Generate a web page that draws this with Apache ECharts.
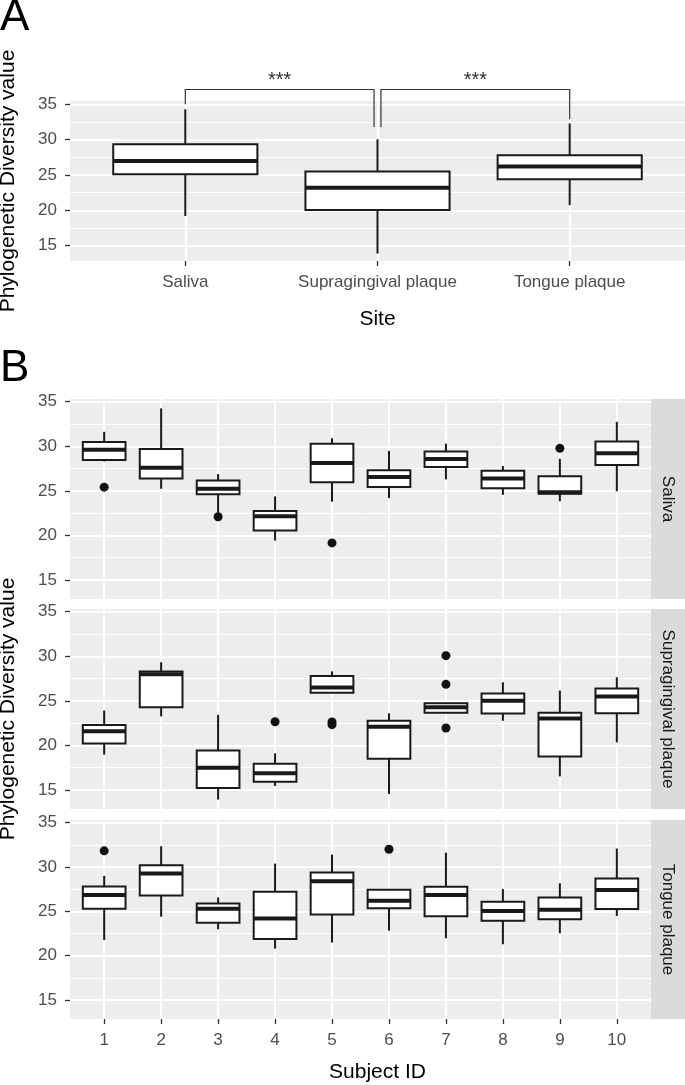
<!DOCTYPE html>
<html><head><meta charset="utf-8">
<script src="https://cdn.jsdelivr.net/npm/echarts@6/dist/echarts.min.js"></script>
<style>html,body{margin:0;padding:0;background:#fff}#c{width:685px;height:1085px}</style>
</head><body><div id="c"></div><script>
// ---------- Panel A data ----------
const sites = ['Saliva', 'Supragingival plaque', 'Tongue plaque'];
// [lower whisker, Q1, median, Q3, upper whisker]
const siteBoxes = [
  [19.2, 25.1, 27.0, 29.35, 34.3],
  [13.9, 20.05, 23.2, 25.5, 30.05],
  [20.75, 24.4, 26.2, 27.8, 32.3]
];
const bracketFrom = [1, 2.018];
const bracketTo = [1.982, 3];
const bracketTop = [37.1, 37.1];
const bracketTipFrom = [35.0, 31.8];
const bracketTipTo = [31.8, 32.9];
const signifLabels = ['***', '***'];

// ---------- Panel B data ----------
const subjects = ['1', '2', '3', '4', '5', '6', '7', '8', '9', '10'];
const facetNames = ['Saliva', 'Supragingival plaque', 'Tongue plaque'];
const salivaBoxes = [
  [28.3, 28.46, 29.62, 30.49, 31.62],
  [25.23, 26.39, 27.59, 29.7, 34.25],
  [22.55, 24.62, 25.23, 26.17, 26.88],
  [19.42, 20.55, 22.16, 22.73, 24.38],
  [23.78, 25.95, 28.13, 30.27, 30.9],
  [24.19, 25.43, 26.55, 27.3, 29.48],
  [26.28, 27.67, 28.57, 29.4, 30.3],
  [24.55, 25.3, 26.39, 27.26, 27.78],
  [23.83, 24.66, 24.85, 26.65, 28.6],
  [24.96, 27.89, 29.21, 30.53, 32.74]
];
const salivaOutliers = [[1, 25.41], [3, 22.1], [5, 19.16], [9, 29.77]];
const supraBoxes = [
  [18.96, 20.22, 21.6, 22.28, 23.92],
  [23.25, 24.29, 27.99, 28.28, 29.33],
  [13.92, 15.22, 17.5, 19.44, 23.43],
  [15.45, 15.93, 16.87, 17.95, 19.11],
  [25.92, 25.92, 26.51, 27.79, 28.31],
  [14.55, 18.51, 22.1, 22.78, 23.6],
  [23.67, 23.67, 24.27, 24.72, 24.72],
  [22.76, 23.58, 25.0, 25.82, 27.09],
  [16.53, 18.77, 23.02, 23.66, 26.16],
  [20.34, 23.62, 25.49, 26.38, 27.65]
];
const supraOutliers = [[4, 22.66], [5, 22.63], [5, 22.33], [7, 30.07], [7, 26.85], [7, 21.95]];
const tongueBoxes = [
  [21.78, 25.3, 26.84, 27.81, 29.01],
  [24.4, 26.8, 29.27, 30.21, 32.34],
  [22.98, 23.73, 25.3, 25.9, 26.57],
  [20.81, 21.89, 24.21, 27.21, 30.39],
  [21.48, 24.66, 28.41, 29.38, 31.4],
  [22.83, 25.34, 26.2, 27.43, 27.43],
  [21.97, 24.44, 26.84, 27.77, 31.63],
  [21.29, 23.95, 25.04, 26.09, 27.51],
  [22.53, 24.1, 25.19, 26.57, 28.18],
  [24.48, 25.26, 27.4, 28.71, 32.08]
];
const tongueOutliers = [[1, 31.82], [6, 32.0]];

const yTicks = [15, 20, 25, 30, 35];
const yMinorTicks = [17.5, 22.5, 27.5, 32.5];
const yRangeA = [12.84, 35.47];
const yRangeB = [12.87, 35.3];

// ---------- styles ----------
const FONT = '"Liberation Sans", Arial, Helvetica, sans-serif';
const PANEL_BG = '#EDEDED';
const STRIP_BG = '#DBDBDB';
const INK = '#1A1A1A';
const LW = 2;
const BOX_W = 0.75;

const gridsPx = [
  { left: 70, top: 101, width: 615, height: 160 },
  { left: 70, top: 399, width: 581, height: 200 },
  { left: 70, top: 609, width: 581, height: 200 },
  { left: 70, top: 820, width: 581, height: 199 }
];

function renderBox(params, api) {
  const x = api.value(0);
  const lo = api.coord([x, api.value(1)]);
  const q1 = api.coord([x, api.value(2)]);
  const med = api.coord([x, api.value(3)]);
  const q3 = api.coord([x, api.value(4)]);
  const hi = api.coord([x, api.value(5)]);
  const hw = api.size([BOX_W, 0], [x, 0])[0] / 2;
  const cx = lo[0];
  const ls = { stroke: INK, lineWidth: LW };
  return {
    type: 'group',
    children: [
      { type: 'line', shape: { x1: cx, y1: hi[1], x2: cx, y2: q3[1] }, style: ls },
      { type: 'line', shape: { x1: cx, y1: q1[1], x2: cx, y2: lo[1] }, style: ls },
      { type: 'rect', shape: { x: cx - hw, y: q3[1], width: 2 * hw, height: q1[1] - q3[1] },
        style: { fill: '#fff', stroke: INK, lineWidth: LW } },
      { type: 'line', shape: { x1: cx - hw, y1: med[1], x2: cx + hw, y2: med[1] },
        style: { stroke: INK, lineWidth: LW * 2 } }
    ]
  };
}

function renderBracket(params, api) {
  const p1 = api.coord([api.value(0), api.value(2)]);
  const p2 = api.coord([api.value(1), api.value(2)]);
  const t1 = api.coord([api.value(0), api.value(3)]);
  const t2 = api.coord([api.value(1), api.value(4)]);
  return {
    type: 'group',
    children: [
      { type: 'polyline', shape: { points: [t1, p1, p2, t2] },
        style: { stroke: '#333', lineWidth: 1.2, fill: null } },
      { type: 'text', x: (p1[0] + p2[0]) / 2, y: p1[1] - 9,
        style: { text: signifLabels[params.dataIndex], align: 'center', verticalAlign: 'middle',
                 fontSize: 20, fontFamily: FONT, fill: '#333' } }
    ]
  };
}

const labelStyle = { fontSize: 17, color: '#4D4D4D', fontFamily: FONT };
const tickStyle = { lineStyle: { color: '#333333', width: 1.3 }, length: 5 };

const xCats = [sites, subjects, subjects, subjects];
const xAxis = [];
const yAxis = [];
gridsPx.forEach((g, i) => {
  const cats = xCats[i];
  const vals = cats.map((c, k) => k + 1);
  const showX = (i === 0 || i === 3);
  xAxis.push({
    type: 'value', gridIndex: i, min: 0.4, max: cats.length + 0.6,
    axisLine: { show: false },
    axisTick: Object.assign({ show: showX, customValues: vals }, tickStyle),
    axisLabel: Object.assign({ show: showX, customValues: vals, margin: 13,
      formatter: v => cats[Math.round(v) - 1] }, labelStyle),
    splitLine: { show: true, lineStyle: { color: '#fff', width: 2 } }
  });
  const r = i === 0 ? yRangeA : yRangeB;
  yAxis.push({
    type: 'value', gridIndex: i, min: r[0], max: r[1],
    axisLine: { show: false },
    axisTick: Object.assign({ show: true, customValues: yTicks }, tickStyle),
    axisLabel: Object.assign({ show: true, customValues: yTicks, margin: 13 }, labelStyle),
    splitLine: { show: true, lineStyle: { color: '#fff', width: 2 } }
  });
  yAxis.push({
    type: 'value', gridIndex: i, min: r[0], max: r[1], position: 'left',
    axisLine: { show: false },
    axisTick: { show: false, customValues: yMinorTicks },
    axisLabel: { show: false, customValues: yMinorTicks },
    splitLine: { show: true, lineStyle: { color: '#fff', width: 1 } }
  });
});

const boxSets = [siteBoxes, salivaBoxes, supraBoxes, tongueBoxes];
const outlierSets = [[], salivaOutliers, supraOutliers, tongueOutliers];
const series = [];
boxSets.forEach((set, i) => {
  series.push({
    type: 'custom', xAxisIndex: i, yAxisIndex: i * 2, z: 3,
    renderItem: renderBox, clip: false,
    encode: { x: 0, y: [1, 2, 3, 4, 5] },
    data: set.map((b, k) => [k + 1].concat(b)),
    silent: true
  });
  if (outlierSets[i].length) {
    series.push({
      type: 'scatter', xAxisIndex: i, yAxisIndex: i * 2, z: 4,
      symbol: 'circle', symbolSize: 9, itemStyle: { color: '#111', opacity: 1 },
      data: outlierSets[i], silent: true
    });
  }
});
series.push({
  type: 'custom', xAxisIndex: 0, yAxisIndex: 0, z: 5, clip: false,
  renderItem: renderBracket,
  encode: { x: [0, 1], y: [2, 3, 4] },
  data: bracketFrom.map((f, k) => [f, bracketTo[k], bracketTop[k], bracketTipFrom[k], bracketTipTo[k]]),
  silent: true
});

const graphic = [
  { type: 'text', x: 0, y: 18, style: { text: 'A', fontSize: 44, fontFamily: FONT, fill: '#000', align: 'left', verticalAlign: 'middle' } },
  { type: 'text', x: 0, y: 369, style: { text: 'B', fontSize: 44, fontFamily: FONT, fill: '#000', align: 'left', verticalAlign: 'middle' } },
  { type: 'text', x: 8, y: 181, rotation: Math.PI / 2, style: { text: 'Phylogenetic Diversity value', fontSize: 21, fontFamily: FONT, fill: '#000', align: 'center', verticalAlign: 'middle' } },
  { type: 'text', x: 377.5, y: 319.5, style: { text: 'Site', fontSize: 21, fontFamily: FONT, fill: '#000', align: 'center', verticalAlign: 'middle' } },
  { type: 'text', x: 8, y: 709, rotation: Math.PI / 2, style: { text: 'Phylogenetic Diversity value', fontSize: 21, fontFamily: FONT, fill: '#000', align: 'center', verticalAlign: 'middle' } },
  { type: 'text', x: 377.5, y: 1072.5, style: { text: 'Subject ID', fontSize: 21, fontFamily: FONT, fill: '#000', align: 'center', verticalAlign: 'middle' } }
];
facetNames.forEach((name, k) => {
  const g = gridsPx[k + 1];
  const sx = g.left + g.width;
  graphic.push({ type: 'rect', shape: { x: sx, y: g.top, width: 34, height: g.height }, style: { fill: STRIP_BG } });
  graphic.push({ type: 'text', x: sx + 17, y: g.top + g.height / 2, rotation: -Math.PI / 2,
    style: { text: name, fontSize: 17, fontFamily: FONT, fill: '#1A1A1A', align: 'center', verticalAlign: 'middle' } });
});

const chart = echarts.init(document.getElementById('c'), null, { renderer: 'canvas' });
chart.setOption({
  animation: false,
  backgroundColor: '#fff',
  grid: gridsPx.map(g => Object.assign({ show: true, backgroundColor: PANEL_BG, borderWidth: 0, containLabel: false }, g)),
  xAxis, yAxis, series, graphic
});
</script></body></html>
